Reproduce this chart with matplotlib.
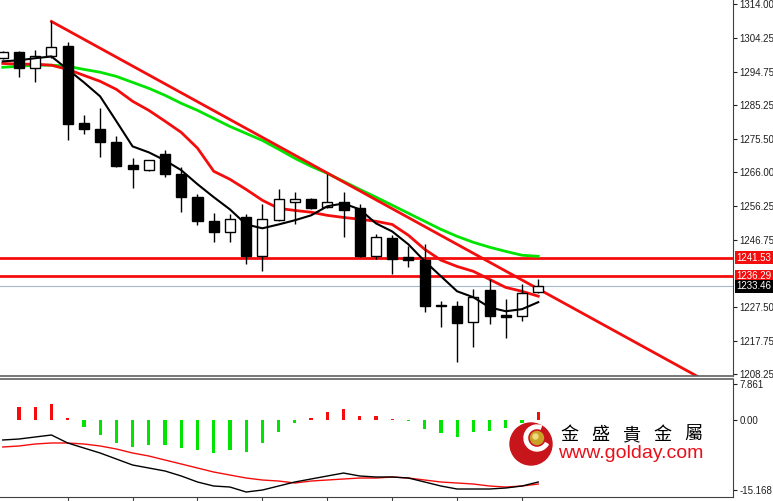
import numpy as np
import matplotlib
matplotlib.use("Agg")
import matplotlib.pyplot as plt
from matplotlib.patches import Circle, Wedge

# candles (index 0 is the partially visible one on the left edge)
opens = [1298.6, 1300.3, 1295.7, 1299.1, 1302.0, 1280.0, 1278.3, 1274.6, 1268.0, 1266.6,
         1271.1, 1265.4, 1258.9, 1252.0, 1248.9, 1253.1, 1242.0, 1252.3, 1257.4, 1258.3,
         1256.0, 1257.4, 1255.7, 1242.0, 1247.1, 1241.7, 1240.9, 1228.0, 1227.7, 1223.1,
         1232.3, 1225.1, 1224.9, 1231.7]
highs = [1300.6, 1300.6, 1300.9, 1309.1, 1303.1, 1282.3, 1284.3, 1276.3, 1270.0, 1269.6,
         1272.3, 1267.4, 1259.7, 1254.3, 1254.0, 1254.0, 1256.9, 1261.1, 1260.3, 1258.6,
         1265.4, 1260.3, 1256.9, 1248.3, 1248.0, 1244.9, 1245.4, 1229.1, 1229.1, 1232.6,
         1235.4, 1229.7, 1234.0, 1235.4]
lows = [1298.3, 1293.1, 1291.7, 1298.8, 1275.1, 1276.9, 1270.3, 1267.5, 1261.4, 1266.3,
        1264.6, 1254.6, 1250.9, 1246.0, 1246.0, 1239.7, 1237.7, 1252.0, 1251.1, 1255.4,
        1255.7, 1247.4, 1241.7, 1241.1, 1236.9, 1238.9, 1226.0, 1221.7, 1211.7, 1216.0,
        1222.6, 1218.6, 1223.4, 1231.6]
closes = [1300.3, 1295.7, 1299.1, 1301.7, 1279.7, 1278.3, 1274.6, 1267.7, 1266.9, 1269.4,
          1265.4, 1258.9, 1252.0, 1248.9, 1252.6, 1242.0, 1252.6, 1258.3, 1258.3, 1255.7,
          1257.4, 1255.1, 1242.0, 1247.4, 1241.1, 1240.9, 1227.7, 1227.7, 1222.9, 1230.3,
          1224.9, 1224.6, 1231.4, 1233.46]

ma_fast = [1297.7, 1298.0, 1298.6, 1299.1, 1295.4, 1291.7, 1287.7, 1280.6, 1273.4, 1271.7,
           1269.4, 1266.6, 1262.6, 1258.9, 1255.4, 1251.1, 1250.0, 1251.1, 1252.3, 1253.7,
           1256.3, 1257.1, 1255.4, 1251.4, 1249.1, 1245.4, 1240.6, 1236.3, 1232.0, 1230.3,
           1227.4, 1226.3, 1226.9, 1228.9]
ma_mid = [1297.1, 1296.9, 1296.9, 1296.6, 1295.4, 1293.7, 1292.0, 1289.7, 1286.3, 1283.7,
          1280.6, 1277.4, 1272.9, 1266.3, 1264.0, 1261.1, 1258.0, 1255.7, 1255.1, 1254.6,
          1253.7, 1253.1, 1252.6, 1252.0, 1251.1, 1248.0, 1244.0, 1240.9, 1239.1, 1237.7,
          1235.4, 1233.1, 1232.0, 1230.6]
ma_slow = [1296.0, 1296.3, 1296.6, 1296.6, 1296.3, 1295.4, 1294.6, 1293.4, 1291.7, 1290.0,
           1288.0, 1285.7, 1283.7, 1281.4, 1279.1, 1277.1, 1275.1, 1272.6, 1270.0, 1267.7,
           1265.7, 1263.4, 1261.1, 1258.9, 1256.6, 1254.3, 1252.0, 1249.7, 1247.7, 1246.0,
           1244.6, 1243.4, 1242.3, 1242.0]

trend_x = [3, 45]
trend_y = [1309.1, 1202.1]

levels = [1241.53, 1236.29]
last_price = 1233.46

price_ticks = [1314.00, 1304.25, 1294.75, 1285.25, 1275.50, 1266.00, 1256.25,
               1246.75, 1227.50, 1217.75, 1208.25]

macd_hist = [np.nan, 2.8, 2.8, 3.5, 0.4, -1.5, -3.25, -5.0, -5.85, -5.4,
             -5.4, -6.1, -6.5, -7.15, -6.5, -6.9, -5.0, -2.6, -0.65, 0.45,
             1.7, 2.4, 0.9, 0.9, 0.15, -0.15, -1.95, -2.8, -3.7, -2.6,
             -2.4, -1.7, -0.65, 1.7]
macd_line = [-4.33, -4.12, -3.68, -3.25, -4.98, -6.07, -7.15, -8.45, -9.75, -10.4,
             -11.05, -12.13, -13.43, -14.3, -14.52, -15.6, -15.17, -14.3, -13.43, -12.78,
             -12.13, -11.49, -12.13, -12.35, -12.35, -12.57, -13.43, -14.3, -14.95, -14.95,
             -14.95, -14.73, -14.3, -13.43]
signal_line = [-5.85, -5.63, -5.2, -4.98, -4.98, -5.2, -5.63, -6.28, -7.15, -7.8,
               -8.67, -9.53, -10.4, -11.27, -11.92, -12.57, -13.0, -13.22, -13.65, -13.22,
               -13.0, -12.78, -12.57, -12.57, -12.35, -12.57, -13.0, -13.43, -13.65, -13.87,
               -14.3, -14.52, -14.3, -13.87]
macd_ticks = [7.861, 0.0, -15.168]
macd_tick_labels = ["7.861", "0.00", "-15.168"]

brand_chars = ["金", "盛", "貴", "金", "屬"]
brand_url = "www.golday.com"

RED = "#f40d0d"
GREEN = "#00e400"
GRID = "#404040"
LABEL_FONT = "Liberation Sans"

W, H = 773, 501
fig = plt.figure(figsize=(W / 100, H / 100), dpi=100)
ax = fig.add_axes([0, (H - 376) / H, 733 / W, 376 / H])
ax2 = fig.add_axes([0, (H - 497) / H, 733 / W, 118 / H])

x = np.arange(len(opens))
o = np.array(opens); c = np.array(closes)
up = c >= o

# candles
ax.vlines(x, lows, highs, color="black", lw=1, zorder=3)
ax.bar(x, np.abs(c - o), bottom=np.minimum(o, c), width=0.62,
       color=np.where(up, "white", "black"), edgecolor="black", lw=1, zorder=4)

ax.plot(x, ma_slow, color=GREEN, lw=2, zorder=2)
ax.plot(x, ma_mid, color=RED, lw=2, zorder=2)
ax.plot(x, ma_fast, color="black", lw=1.5, zorder=5)
ax.plot(trend_x, trend_y, color=RED, lw=2, zorder=2)

for lv in levels:
    ax.axhline(lv, color=RED, lw=2, zorder=1)
ax.axhline(last_price, color="#a8b8cc", lw=0.8, zorder=1)

ax.set_xlim(-0.17, 45.0)
ax.set_ylim(1207.8, 1315.23)
ax.yaxis.tick_right()
ax.set_yticks(price_ticks)
ax.set_yticklabels(["%.2f" % t for t in price_ticks], family=LABEL_FONT)
ax.tick_params(axis="y", direction="out", length=3, width=0.8, labelsize=7,
               pad=1.5, colors="#202020")
ax.set_xticks([])
for s in ["top", "left"]:
    ax.spines[s].set_visible(False)
ax.spines["right"].set_color(GRID)
ax.spines["bottom"].set_color("#606060")
ax.spines["bottom"].set_linewidth(1.2)

tr = ax.get_yaxis_transform()
for lv, bg in [(levels[0], RED), (levels[1], RED), (last_price, "black")]:
    ax.text(1.005, lv, "%.2f" % lv, transform=tr, ha="left", va="center",
            fontsize=7, color="white", clip_on=False, zorder=10, family=LABEL_FONT,
            bbox=dict(boxstyle="square,pad=0.15", fc=bg, ec="none"))

# MACD panel
hcol = [RED if v > 0 else GREEN for v in np.nan_to_num(macd_hist)]
ax2.bar(x, macd_hist, width=0.2, color=hcol, zorder=2)
ax2.plot(x, signal_line, color=RED, lw=1, zorder=3)
ax2.plot(x, macd_line, color="black", lw=1, zorder=3)
ax2.set_xlim(-0.17, 45.0)
ax2.set_ylim(-16.68, 8.88)
ax2.yaxis.tick_right()
ax2.set_yticks(macd_ticks)
ax2.set_yticklabels(macd_tick_labels, family=LABEL_FONT)
ax2.tick_params(axis="y", direction="out", length=3, width=0.8, labelsize=7,
                pad=1.5, colors="#202020")
ax2.set_xticks(np.arange(4, 34, 4))
ax2.tick_params(axis="x", direction="out", length=3, width=0.8, labelbottom=False,
                colors=GRID)
ax2.spines["left"].set_visible(False)
ax2.spines["top"].set_color("#606060")
ax2.spines["top"].set_linewidth(1.2)
ax2.spines["right"].set_color(GRID)
ax2.spines["bottom"].set_color(GRID)

# logo
lg = fig.add_axes([505 / W, (H - 468) / H, 50 / W, 48 / H])
lg.set_xlim(0, 50); lg.set_ylim(0, 48); lg.set_aspect("equal"); lg.axis("off")
lg.add_patch(Circle((26, 24), 21, color="#c8151b"))
lg.add_patch(Wedge((32, 30), 13, 70, 330, width=3.5, color="white"))
lg.add_patch(Circle((32, 30), 6.5, color="#c9a227"))
lg.add_patch(Circle((30.5, 31.5), 2.5, color="#f0dc80"))

for i, ch in enumerate(brand_chars):
    fig.text((569 + i * 31) / W, (H - 435) / H, ch, ha="center", va="center",
             fontsize=13, color="black", family=["Noto Sans CJK TC", "DejaVu Sans"])
fig.text(631 / W, (H - 453) / H, brand_url, ha="center", va="center",
         fontsize=14, color="#e8101a", family="Liberation Sans")

fig.savefig("out.png", dpi=100)
